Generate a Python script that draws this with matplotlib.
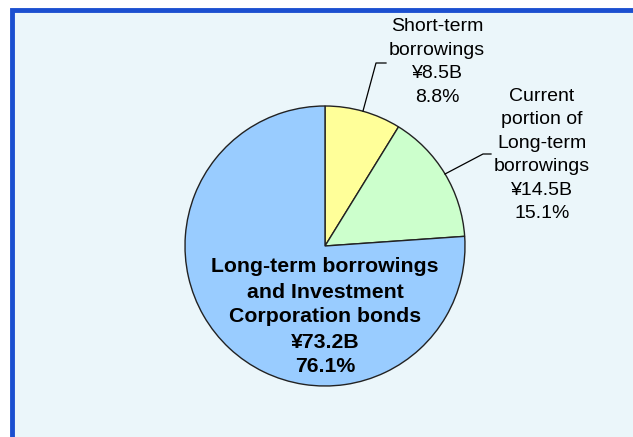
import matplotlib
matplotlib.use("Agg")
import matplotlib.pyplot as plt
from matplotlib.patches import Rectangle

# data
labels = ["Short-term\nborrowings", "Current\nportion of\nLong-term\nborrowings",
          "Long-term borrowings\nand Investment\nCorporation bonds"]
amounts = ["¥8.5B", "¥14.5B", "¥73.2B"]
shares = [8.8, 15.1, 76.1]
colors = ["#FFFF99", "#CCFFCC", "#99CCFF"]

W, H = 633, 437
fig = plt.figure(figsize=(W / 100, H / 100), dpi=100, facecolor="white")
ax = fig.add_axes([0, 0, 1, 1])

# panel background with blue border on top/left
ax.add_patch(Rectangle((12, -20), W + 20, H - 10 + 20,
                       facecolor="#EBF6FA", edgecolor="#1B4FD0", linewidth=3.5, zorder=0))

cx, cy, r = 325, H - 246, 140
ax.pie(shares, colors=colors, startangle=90, counterclock=False,
       center=(cx, cy), radius=r, frame=True,
       wedgeprops=dict(edgecolor="#222222", linewidth=1.0))
ax.set_xlim(0, W)
ax.set_ylim(0, H)
ax.set_aspect("equal")
ax.axis("off")

font = dict(family=["Liberation Sans", "DejaVu Sans"], color="black")

# outside labels
ax.text(437, H - 62, f"{labels[0]}\n{amounts[0]}\n{shares[0]}%", ha="center", va="center",
        fontsize=14, linespacing=1.5, **font)
ax.text(542, H - 155, f"{labels[1]}\n{amounts[1]}\n{shares[1]}%", ha="center", va="center",
        fontsize=14, linespacing=1.5, **font)

# inside label
ax.text(325, H - 317, f"{labels[2]}\n{amounts[2]}\n{shares[2]}%", ha="center", va="center",
        fontsize=15.3, fontweight="bold", linespacing=1.4, **font)

# leader lines
ax.plot([363, 376, 386], [H - 111, H - 63, H - 63], color="black", linewidth=0.9)
ax.plot([445, 483, 491], [H - 174, H - 154, H - 154], color="black", linewidth=0.9)

fig.savefig("out.png", dpi=100, facecolor="white")
